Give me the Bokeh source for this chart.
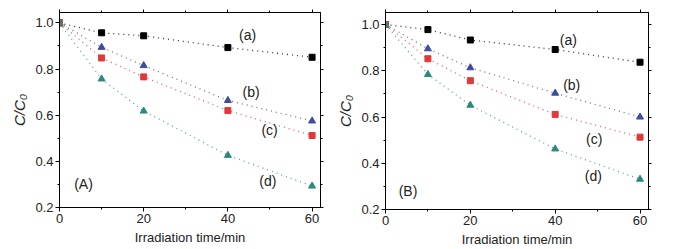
from bokeh.plotting import figure
from bokeh.layouts import row
from bokeh.models import LinearAxis, Range1d, FixedTicker, NumeralTickFormatter, CustomJSTickFormatter
from bokeh.core.properties import value
from bokeh.embed import file_html
from bokeh.resources import INLINE

time = [0, 10, 20, 40, 60]

# Panel A
a_A = [1.0, 0.957, 0.944, 0.893, 0.851]
b_A = [1.0, 0.894, 0.815, 0.664, 0.575]
c_A = [1.0, 0.848, 0.766, 0.620, 0.512]
d_A = [1.0, 0.757, 0.618, 0.426, 0.293]

# Panel B
a_B = [1.0, 0.978, 0.933, 0.892, 0.837]
b_B = [1.0, 0.895, 0.813, 0.703, 0.600]
c_B = [1.0, 0.852, 0.757, 0.611, 0.513]
d_B = [1.0, 0.784, 0.651, 0.462, 0.331]

series_labels = ["(a)", "(b)", "(c)", "(d)"]
labels_A_x = [44.7, 45.5, 49.9, 49.5]
labels_A_y = [0.948, 0.699, 0.536, 0.316]
labels_B_x = [43.1, 43.9, 49.2, 49.0]
labels_B_y = [0.933, 0.738, 0.506, 0.344]
panel_names = ["(A)", "(B)"]
panel_x = [5.7, 5.3]
panel_y = [0.304, 0.280]

x_ticks = [0, 20, 40, 60]
y_ticks = [0.2, 0.4, 0.6, 0.8, 1.0]

colors = ["#000000", "#3e4b9e", "#e0393a", "#2a8a7c"]
markers = ["square", "triangle", "square", "triangle"]
FONT = "Liberation Sans"
FS = "13px"


def make_panel(series, lx, ly, pname, px, py, geom, yr):
    fw, fh, bl, bt, br, bb = geom
    p = figure(frame_width=fw, frame_height=fh, min_border_left=bl, min_border_top=bt,
               min_border_right=br, min_border_bottom=bb,
               x_range=Range1d(0, 62), y_range=Range1d(0.2, yr),
               output_backend="svg", toolbar_location=None,
               background_fill_color="white", border_fill_color="white")
    p.grid.visible = False
    p.outline_line_color = "black"
    p.outline_line_width = 1
    for ax in p.xaxis:
        ax.ticker = FixedTicker(ticks=x_ticks, minor_ticks=[10, 30, 50])
        ax.axis_label = "Irradiation time/min"
        ax.axis_label_text_font_style = "normal"
        ax.axis_label_text_font_size = FS
    for ax in p.yaxis:
        ax.ticker = FixedTicker(ticks=y_ticks, minor_ticks=[0.3, 0.5, 0.7, 0.9])
        ax.axis_label = "C/C\u2080"
        ax.axis_label_text_font_style = "italic"
        ax.axis_label_text_font_size = "15px"
        ax.formatter = NumeralTickFormatter(format="0.0")
    for ax in list(p.xaxis) + list(p.yaxis):
        ax.axis_label_text_font = FONT
        ax.major_label_text_font = FONT
        ax.major_label_text_font_size = FS
        ax.major_label_text_color = "#222222"
        ax.axis_label_text_color = "#222222"
        ax.major_tick_out = 4
        ax.major_tick_in = 0
        ax.minor_tick_out = 2
        ax.minor_tick_in = 0
        ax.major_label_standoff = 2
        ax.axis_label_standoff = 4
    blank = CustomJSTickFormatter(code="return ''")
    top = LinearAxis(ticker=FixedTicker(ticks=x_ticks, minor_ticks=[10, 30, 50]),
                     formatter=blank, major_tick_out=3, major_tick_in=0,
                     minor_tick_out=2, minor_tick_in=0, major_label_standoff=0)
    right = LinearAxis(ticker=FixedTicker(ticks=y_ticks, minor_ticks=[0.3, 0.5, 0.7, 0.9]),
                       formatter=blank, major_tick_out=3, major_tick_in=0,
                       minor_tick_out=2, minor_tick_in=0, major_label_standoff=0)
    p.add_layout(top, "above")
    p.add_layout(right, "right")

    for ys, col, mk in zip(series, colors, markers):
        p.line(time, ys, line_color=col, line_dash="1 4", line_width=1.3, line_alpha=0.8)
        p.scatter(time, ys, marker=mk, size=7 if mk == "triangle" else 6,
                  fill_color=col, line_color=col)
    p.text(x=lx, y=ly, text=series_labels, text_font=value(FONT), text_font_size="14px",
           text_color="#222222", text_align="center", text_baseline="middle")
    p.text(x=[px], y=[py], text=[pname], text_font=value(FONT), text_font_size="14px",
           text_color="#222222", text_align="center", text_baseline="middle")
    return p


pA = make_panel([a_A, b_A, c_A, d_A], labels_A_x, labels_A_y, panel_names[0], panel_x[0], panel_y[0],
                (261, 195, 59, 12, 14, 42), 1.045)
pB = make_panel([a_B, b_B, c_B, d_B], labels_B_x, labels_B_y, panel_names[1], panel_x[1], panel_y[1],
                (263, 197, 51, 5, 26, 47), 1.052)

layout = row(pA, pB, spacing=0)
open("out.html", "w").write(file_html(layout, INLINE))
